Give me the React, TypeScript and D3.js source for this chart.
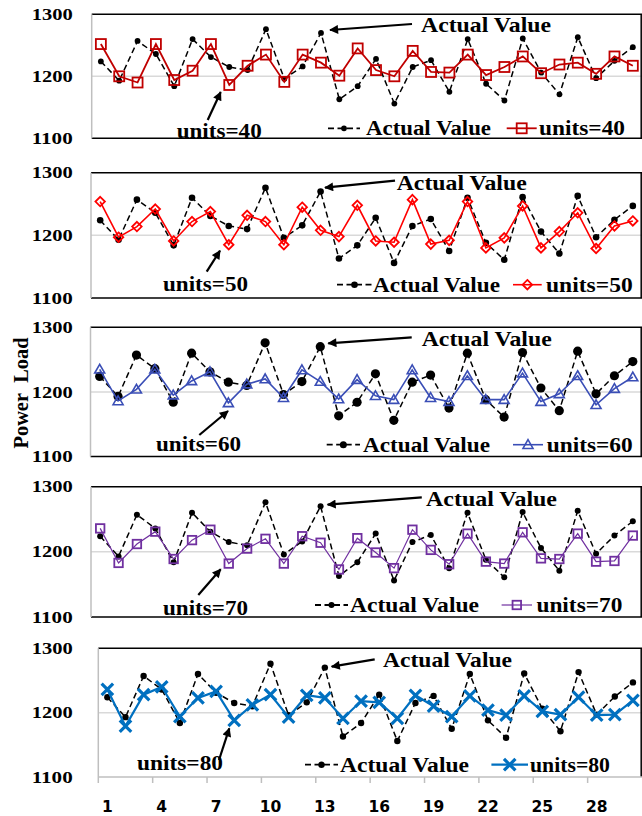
import React from 'react';
import * as d3 from 'd3';

// data
const categories = [1, 2, 3, 4, 5, 6, 7, 8, 9, 10, 11, 12, 13, 14, 15, 16, 17, 18, 19, 20, 21, 22, 23, 24, 25, 26, 27, 28, 29, 30];
const xTickLabels = [1, 4, 7, 10, 13, 16, 19, 22, 25, 28];
const yTickValues = [1100, 1200, 1300];

const actualValue = [1224, 1193, 1257, 1236, 1184, 1260, 1231, 1215, 1210, 1276, 1196, 1216, 1270, 1163, 1184, 1228, 1156, 1215, 1226, 1175, 1260, 1188, 1161, 1261, 1206, 1171, 1263, 1197, 1225, 1247];
const units40 = [1252, 1200, 1190, 1252, 1194, 1209, 1252, 1186, 1217, 1235, 1191, 1235, 1222, 1201, 1245, 1210, 1200, 1241, 1207, 1206, 1235, 1202, 1215, 1232, 1205, 1219, 1222, 1204, 1232, 1217];
const units50 = [1254, 1197, 1214, 1242, 1191, 1222, 1238, 1185, 1232, 1222, 1185, 1245, 1208, 1198, 1248, 1191, 1189, 1257, 1186, 1192, 1254, 1180, 1196, 1247, 1180, 1206, 1236, 1179, 1215, 1223];
const units60 = [1235, 1186, 1204, 1235, 1195, 1217, 1231, 1183, 1212, 1220, 1191, 1234, 1216, 1189, 1219, 1194, 1188, 1234, 1191, 1185, 1225, 1188, 1188, 1229, 1185, 1197, 1225, 1180, 1205, 1223];
const units70 = [1236, 1183, 1212, 1231, 1189, 1218, 1234, 1182, 1205, 1220, 1182, 1224, 1214, 1173, 1221, 1199, 1175, 1234, 1203, 1181, 1228, 1185, 1182, 1230, 1190, 1189, 1228, 1185, 1186, 1225];
const units80 = [1236, 1179, 1228, 1240, 1194, 1223, 1233, 1188, 1212, 1228, 1193, 1227, 1223, 1191, 1218, 1216, 1191, 1227, 1210, 1194, 1226, 1204, 1196, 1226, 1202, 1197, 1224, 1196, 1197, 1219];

const seriesNames = ['units=40', 'units=50', 'units=60', 'units=70', 'units=80'];
const seriesValues = [units40, units50, units60, units70, units80];

const W = 642;
const H = 816;
const SERIF = '"Liberation Serif", "Times New Roman", serif';

// layout per panel (pixel positions)
const panels = [
  {
    top: 14.3, bottom: 138.3, left: 91.7, color: '#C00000', marker: 'square', ms: 10, lw: 1.8, dotR: 2.9,
    act: { x: 421, y: 31.7, w: 130, ax1: 412, ay1: 24, ax2: 330, ay2: 30 },
    uni: { x: 176.7, y: 137.7, w: 85, ax1: 207.7, ay1: 120, ax2: 220.7, ay2: 92 },
    leg: { y: 128.3, s1: 328, s2: 360, t1: 366, t1w: 125, u1: 506.7, u2: 536.7, t2: 539, t2w: 86 },
  },
  {
    top: 172.7, bottom: 298, left: 91, color: '#FF0000', marker: 'diamond', ms: 9.5, lw: 1.6, dotR: 3.3,
    act: { x: 396.7, y: 190, w: 130, ax1: 395, ay1: 180.7, ax2: 325, ay2: 187.7 },
    uni: { x: 163, y: 290.7, w: 85, ax1: 206.7, ay1: 271.7, ax2: 220, ay2: 250.7 },
    leg: { y: 284.7, s1: 337, s2: 372, t1: 373, t1w: 127, u1: 513, u2: 541.7, t2: 546, t2w: 86.7 },
  },
  {
    top: 327.3, bottom: 456.5, left: 90.5, color: '#3A4EB6', marker: 'triangle', ms: 10, lw: 1.6, dotR: 4.6,
    act: { x: 421.7, y: 346, w: 130, ax1: 411.7, ay1: 337.3, ax2: 328.3, ay2: 343.3 },
    uni: { x: 156, y: 450.7, w: 85, ax1: 199.3, ay1: 435, ax2: 228, ay2: 411 },
    leg: { y: 444.7, s1: 326.7, s2: 360, t1: 363, t1w: 127, u1: 513, u2: 543, t2: 546.7, t2w: 86 },
  },
  {
    top: 486.7, bottom: 617, left: 91, color: '#7030A0', marker: 'square', ms: 8.5, lw: 1.2, dotR: 3,
    act: { x: 426, y: 506.4, w: 131, ax1: 421.8, ay1: 497.4, ax2: 327.6, ay2: 504.7 },
    uni: { x: 163, y: 615, w: 85, ax1: 198.3, ay1: 595, ax2: 220.7, ay2: 569.3 },
    leg: { y: 605, s1: 315, s2: 348, t1: 350, t1w: 129, u1: 501.6, u2: 532, t2: 536.4, t2w: 86 },
  },
  {
    top: 648.3, bottom: 777, left: 98.3, color: '#0070C0', marker: 'x', ms: 11.5, lw: 2.2, dotR: 3.2,
    act: { x: 383, y: 666.7, w: 129, ax1: 374.7, ay1: 659.3, ax2: 331.7, ay2: 666.7 },
    uni: { x: 137, y: 770, w: 86, ax1: 219, ay1: 760, ax2: 229.3, ay2: 728.3 },
    leg: { y: 764.7, s1: 305, s2: 338, t1: 340, t1w: 129, u1: 491.4, u2: 528, t2: 530, t2w: 80 },
  },
];
const RIGHT = 642;

const Marker = ({ type, x, y, color, size }) => {
  const h = size / 2;
  if (type === 'square')
    return <rect x={x - h} y={y - h} width={size} height={size} fill="none" stroke={color} strokeWidth={1.8} />;
  if (type === 'diamond')
    return <path d={`M${x},${y - h}L${x + h},${y}L${x},${y + h}L${x - h},${y}Z`} fill="none" stroke={color} strokeWidth={1.8} />;
  if (type === 'triangle')
    return <path d={`M${x},${y - h}L${x + h},${y + h * 0.75}L${x - h},${y + h * 0.75}Z`} fill="none" stroke={color} strokeWidth={1.6} />;
  return (
    <path d={`M${x - h},${y - h}L${x + h},${y + h}M${x - h},${y + h}L${x + h},${y - h}`} stroke={color} strokeWidth={3.2} />
  );
};

const Txt = ({ x, y, w, size = 20, anchor = 'start', children }) => (
  <text x={x} y={y} fontFamily={SERIF} fontWeight="bold" fontSize={size} textAnchor={anchor}
    textLength={w} lengthAdjust="spacingAndGlyphs" fill="#000">{children}</text>
);

const Panel = ({ p, i }) => {
  const x = d3.scaleBand().domain(categories).range([p.left, RIGHT]).padding(0);
  const y = d3.scaleLinear().domain([1100, 1300]).range([p.bottom, p.top]);
  const cx = (d) => x(d) + x.bandwidth() / 2;
  const line = d3.line().x((d, k) => cx(categories[k])).y((d) => y(d));
  const vals = seriesValues[i];
  const isLast = i === panels.length - 1;
  const lg = p.leg;
  return (
    <g>
      <line x1={p.left} x2={RIGHT} y1={y(1200)} y2={y(1200)} stroke="#d9d9d9" strokeWidth={1.5} />
      <line x1={p.left} x2={RIGHT} y1={y(1300)} y2={y(1300)} stroke="#000" strokeWidth={1.5} />
      <line x1={RIGHT - 0.8} x2={RIGHT - 0.8} y1={y(1300)} y2={y(1100)} stroke="#000" strokeWidth={1.5} />
      <line x1={p.left} x2={RIGHT} y1={y(1100)} y2={y(1100)} stroke={isLast ? '#bfbfbf' : '#000'} strokeWidth={1.5} />
      <line x1={p.left} x2={p.left} y1={y(1300)} y2={y(1100)} stroke="#bfbfbf" strokeWidth={1.5} />
      {yTickValues.map((v) => (
        <Txt key={v} x={72.7} y={y(v) + 5.6} w={41} size={17} anchor="end">{v}</Txt>
      ))}
      {isLast && xTickLabels.map((c) => (
        <g key={c}>
          <line x1={x(c)} x2={x(c)} y1={y(1100)} y2={y(1100) + 6} stroke="#bfbfbf" strokeWidth={1.5} />
          <text x={cx(c)} y={811.5} textAnchor="middle" fontFamily='"DejaVu Sans", sans-serif' fontWeight="bold" fontSize={15.5}>{c}</text>
        </g>
      ))}
      <path d={line(actualValue)} fill="none" stroke="#000" strokeWidth={1.5} strokeDasharray="6,3.5" />
      {actualValue.map((v, k) => (
        <circle key={k} cx={cx(categories[k])} cy={y(v)} r={p.dotR} fill="#000" />
      ))}
      <path d={line(vals)} fill="none" stroke={p.color} strokeWidth={p.lw} />
      {vals.map((v, k) => (
        <Marker key={k} type={p.marker} x={cx(categories[k])} y={y(v)} color={p.color} size={p.ms} />
      ))}
      <Txt x={p.act.x} y={p.act.y} w={p.act.w} size={21}>Actual Value</Txt>
      <line x1={p.act.ax1} y1={p.act.ay1} x2={p.act.ax2} y2={p.act.ay2} stroke="#000" strokeWidth={2.2} markerEnd="url(#arr)" />
      <Txt x={p.uni.x} y={p.uni.y} w={p.uni.w} size={20}>{seriesNames[i]}</Txt>
      <line x1={p.uni.ax1} y1={p.uni.ay1} x2={p.uni.ax2} y2={p.uni.ay2} stroke="#000" strokeWidth={2.2} markerEnd="url(#arr)" />
      <line x1={lg.s1} x2={lg.s2} y1={lg.y} y2={lg.y} stroke="#000" strokeWidth={1.8} strokeDasharray="6,3.5" />
      <circle cx={(lg.s1 + lg.s2) / 2} cy={lg.y} r={Math.min(p.dotR, 3.5)} fill="#000" />
      <Txt x={lg.t1} y={lg.y + 7} w={lg.t1w} size={20}>Actual Value</Txt>
      <line x1={lg.u1} x2={lg.u2} y1={lg.y} y2={lg.y} stroke={p.color} strokeWidth={p.lw} />
      <Marker type={p.marker} x={(lg.u1 + lg.u2) / 2} y={lg.y} color={p.color} size={p.ms} />
      <Txt x={lg.t2} y={lg.y + 7} w={lg.t2w} size={20}>{seriesNames[i]}</Txt>
    </g>
  );
};

export default function App() {
  return (
    <svg width={W} height={H} style={{ position: 'absolute', left: 0, top: 0, background: '#fff' }}>
      <defs>
        <marker id="arr" viewBox="0 0 10 10" refX="9" refY="5" markerWidth="11" markerHeight="9"
          markerUnits="userSpaceOnUse" orient="auto">
          <path d="M0,0L10,5L0,10Z" fill="#000" />
        </marker>
      </defs>
      {panels.map((p, i) => (
        <Panel key={i} p={p} i={i} />
      ))}
      <text transform="translate(27.5,393) rotate(-90)" textAnchor="middle" fontFamily={SERIF} fontWeight="bold"
        fontSize={21} textLength={111} lengthAdjust="spacingAndGlyphs">{'Power\u00a0\u00a0Load'}</text>
    </svg>
  );
}
